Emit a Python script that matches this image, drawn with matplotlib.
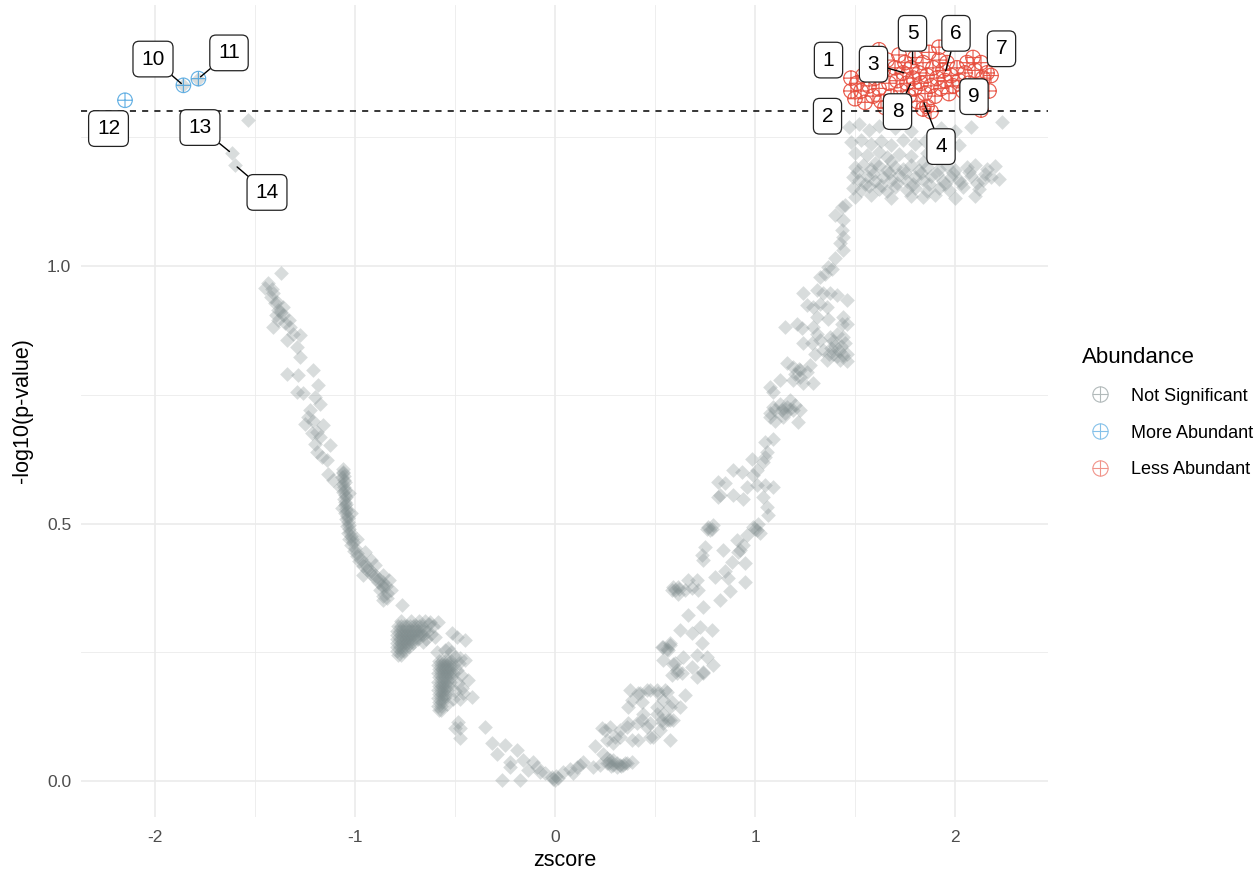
import numpy as np
import matplotlib
matplotlib.use("Agg")
import matplotlib.pyplot as plt
from matplotlib.path import Path
from matplotlib.lines import Line2D

plt.rcParams['font.family'] = ['Liberation Sans', 'DejaVu Sans']
plt.rcParams['axes.unicode_minus'] = False

# ---------------- data (zscore, -log10 p) ----------------
# not significant, upper left arm
ns_left = [(-1.372, 0.986), (-1.433, 0.967), (-1.450, 0.957), (-1.408, 0.947), (-1.400, 0.928),
           (-1.383, 0.915), (-1.358, 0.905), (-1.408, 0.882), (-1.330, 0.895), (-1.325, 0.882),
           (-1.342, 0.856), (-1.308, 0.869), (-1.275, 0.866), (-1.290, 0.843), (-1.275, 0.824),
           (-1.342, 0.790), (-1.283, 0.788), (-1.208, 0.798), (-1.183, 0.769), (-1.290, 0.756),
           (-1.258, 0.753), (-1.200, 0.746), (-1.175, 0.733), (-1.225, 0.720), (-1.233, 0.707),
           (-1.208, 0.700), (-1.250, 0.694), (-1.158, 0.691), (-1.217, 0.675), (-1.192, 0.678),
           (-1.175, 0.668), (-1.200, 0.655), (-1.125, 0.652), (-1.192, 0.639), (-1.167, 0.629),
           (-1.142, 0.623), (-1.133, 0.597), (-1.108, 0.584),
           (-1.390, 0.930), (-1.370, 0.910), (-1.385, 0.895), (-1.360, 0.920), (-1.420, 0.940),
           (-1.395, 0.905), (-1.350, 0.890), (-1.415, 0.955)]

# dense band around zscore -1
ns_band = [(-1.062, 0.605), (-1.058, 0.598), (-1.064, 0.590), (-1.056, 0.584), (-1.060, 0.576),
           (-1.054, 0.570), (-1.058, 0.562), (-1.050, 0.556), (-1.056, 0.548), (-1.048, 0.542),
           (-1.052, 0.535), (-1.044, 0.528), (-1.050, 0.521), (-1.040, 0.515), (-1.046, 0.508),
           (-1.036, 0.502), (-1.042, 0.495), (-1.030, 0.489), (-1.036, 0.482), (-1.022, 0.476),
           (-1.028, 0.470), (-1.012, 0.464), (-1.018, 0.458), (-1.000, 0.452), (-1.006, 0.447),
           (-0.988, 0.442), (-0.992, 0.436), (-0.972, 0.432), (-0.978, 0.427), (-0.955, 0.424),
           (-0.960, 0.418), (-0.938, 0.416), (-0.942, 0.410), (-0.918, 0.408), (-0.922, 0.402),
           (-0.900, 0.400), (-0.902, 0.394), (-0.880, 0.392), (-0.884, 0.386), (-0.862, 0.386),
           (-0.864, 0.380), (-0.845, 0.378),
           (-1.060, 0.600), (-1.055, 0.592), (-1.052, 0.580), (-1.052, 0.565), (-1.046, 0.552),
           (-1.044, 0.538), (-1.040, 0.525), (-1.034, 0.510), (-1.030, 0.498), (-1.024, 0.484),
           (-1.014, 0.470),
           (-1.075, 0.570), (-1.030, 0.560), (-1.020, 0.520), (-1.065, 0.530), (-0.990, 0.470),
           (-0.950, 0.445), (-0.920, 0.430), (-0.960, 0.400), (-0.900, 0.420), (-0.860, 0.400),
           (-0.830, 0.390), (-0.820, 0.370), (-0.860, 0.360), (-0.840, 0.355), (-0.875, 0.370)]

# first solid blob near zscore -0.75
ns_blob_a = [(-0.785, 0.300), (-0.770, 0.300), (-0.755, 0.300), (-0.740, 0.300), (-0.725, 0.300),
             (-0.710, 0.300), (-0.695, 0.300), (-0.680, 0.300), (-0.665, 0.300),
             (-0.790, 0.292), (-0.775, 0.292), (-0.760, 0.292), (-0.745, 0.292), (-0.730, 0.292),
             (-0.715, 0.292), (-0.700, 0.292), (-0.685, 0.292), (-0.670, 0.292), (-0.655, 0.292),
             (-0.788, 0.284), (-0.772, 0.284), (-0.756, 0.284), (-0.740, 0.284), (-0.724, 0.284),
             (-0.708, 0.284), (-0.692, 0.284), (-0.676, 0.284), (-0.660, 0.284),
             (-0.790, 0.276), (-0.775, 0.276), (-0.760, 0.276), (-0.745, 0.276), (-0.730, 0.276),
             (-0.715, 0.276), (-0.700, 0.276), (-0.685, 0.276),
             (-0.788, 0.268), (-0.772, 0.268), (-0.756, 0.268), (-0.740, 0.268), (-0.724, 0.268),
             (-0.708, 0.268),
             (-0.790, 0.260), (-0.775, 0.260), (-0.760, 0.260), (-0.745, 0.260), (-0.730, 0.260),
             (-0.788, 0.252), (-0.772, 0.252), (-0.756, 0.252),
             (-0.785, 0.245), (-0.770, 0.245),
             (-0.650, 0.310), (-0.630, 0.305), (-0.610, 0.300), (-0.640, 0.290), (-0.620, 0.285),
             (-0.600, 0.280), (-0.770, 0.310), (-0.720, 0.310), (-0.680, 0.310), (-0.645, 0.275),
             (-0.660, 0.270)]

# second solid blob near zscore -0.55
ns_blob_b = [(-0.580, 0.233), (-0.565, 0.233), (-0.550, 0.233), (-0.535, 0.233), (-0.520, 0.233),
             (-0.585, 0.225), (-0.570, 0.225), (-0.555, 0.225), (-0.540, 0.225), (-0.525, 0.225),
             (-0.510, 0.225),
             (-0.580, 0.217), (-0.565, 0.217), (-0.550, 0.217), (-0.535, 0.217), (-0.520, 0.217),
             (-0.585, 0.209), (-0.570, 0.209), (-0.555, 0.209), (-0.540, 0.209), (-0.525, 0.209),
             (-0.510, 0.209),
             (-0.580, 0.201), (-0.565, 0.201), (-0.550, 0.201), (-0.535, 0.201), (-0.520, 0.201),
             (-0.585, 0.193), (-0.570, 0.193), (-0.555, 0.193), (-0.540, 0.193), (-0.525, 0.193),
             (-0.580, 0.185), (-0.565, 0.185), (-0.550, 0.185), (-0.535, 0.185),
             (-0.585, 0.177), (-0.570, 0.177), (-0.555, 0.177), (-0.540, 0.177),
             (-0.580, 0.169), (-0.565, 0.169), (-0.550, 0.169),
             (-0.585, 0.161), (-0.570, 0.161), (-0.555, 0.161),
             (-0.580, 0.153), (-0.565, 0.153),
             (-0.585, 0.145), (-0.570, 0.145),
             (-0.580, 0.138), (-0.570, 0.138),
             (-0.500, 0.240), (-0.480, 0.230), (-0.490, 0.215), (-0.470, 0.205), (-0.485, 0.190),
             (-0.465, 0.180), (-0.500, 0.175), (-0.475, 0.160), (-0.510, 0.160), (-0.540, 0.150),
             (-0.550, 0.165), (-0.460, 0.170), (-0.520, 0.250), (-0.550, 0.255), (-0.590, 0.250)]

# valley around zscore 0
ns_valley = [(-0.860, 0.377), (-0.840, 0.365), (-0.860, 0.351), (-0.767, 0.342), (-0.625, 0.309),
             (-0.583, 0.309), (-0.517, 0.287), (-0.492, 0.280), (-0.450, 0.274), (-0.533, 0.258),
             (-0.475, 0.238), (-0.450, 0.235), (-0.433, 0.196), (-0.417, 0.164), (-0.483, 0.115),
             (-0.475, 0.102), (-0.500, 0.102), (-0.475, 0.083), (-0.350, 0.105), (-0.317, 0.073),
             (-0.250, 0.070), (-0.292, 0.053), (-0.192, 0.060), (-0.225, 0.037), (-0.225, 0.028),
             (-0.158, 0.041), (-0.108, 0.037), (-0.092, 0.028), (-0.133, 0.021), (-0.267, 0.002),
             (-0.175, 0.002), (-0.075, 0.018), (-0.050, 0.015), (-0.017, 0.008), (0.000, 0.002),
             (0.017, 0.005), (0.005, 0.010), (-0.008, 0.004)]

# right arm, lower part
ns_right_low = [(0.042, 0.018), (0.075, 0.024), (0.108, 0.028), (0.142, 0.037), (0.125, 0.031),
                (0.092, 0.015), (0.192, 0.028), (0.225, 0.031), (0.258, 0.034), (0.292, 0.031),
                (0.325, 0.031), (0.358, 0.034), (0.200, 0.067), (0.233, 0.102), (0.275, 0.105),
                (0.292, 0.073), (0.325, 0.086), (0.358, 0.105), (0.383, 0.037), (0.242, 0.053),
                (0.275, 0.040), (0.308, 0.028), (0.342, 0.031), (0.250, 0.099), (0.258, 0.080),
                (0.300, 0.086), (0.325, 0.099), (0.367, 0.112), (0.417, 0.080), (0.433, 0.118),
                (0.475, 0.112), (0.492, 0.086), (0.525, 0.099), (0.533, 0.118), (0.575, 0.118),
                (0.575, 0.080), (0.592, 0.118), (0.375, 0.177), (0.417, 0.170), (0.458, 0.177),
                (0.508, 0.177), (0.558, 0.173), (0.367, 0.144), (0.442, 0.131), (0.458, 0.105),
                (0.508, 0.131), (0.542, 0.112), (0.575, 0.144), (0.475, 0.086), (0.408, 0.112),
                (0.383, 0.080), (0.383, 0.157), (0.425, 0.170), (0.433, 0.154), (0.475, 0.177),
                (0.517, 0.170), (0.550, 0.177), (0.508, 0.144), (0.542, 0.157), (0.583, 0.154),
                (0.625, 0.144), (0.650, 0.167), (0.542, 0.131), (0.567, 0.118),
                (0.270, 0.035), (0.290, 0.040), (0.310, 0.035), (0.280, 0.030), (0.260, 0.045),
                (0.330, 0.030), (0.350, 0.035)]

# right arm, middle part
ns_right_mid = [(0.542, 0.261), (0.575, 0.267), (0.592, 0.228), (0.608, 0.209), (0.533, 0.261),
                (0.558, 0.257), (0.575, 0.264), (0.542, 0.235), (0.600, 0.229), (0.633, 0.209),
                (0.583, 0.206), (0.642, 0.241), (0.683, 0.222), (0.708, 0.245), (0.733, 0.267),
                (0.708, 0.202), (0.742, 0.212), (0.758, 0.241), (0.792, 0.225), (0.625, 0.293),
                (0.683, 0.287), (0.725, 0.299), (0.667, 0.322), (0.742, 0.338), (0.783, 0.293),
                (0.592, 0.377), (0.617, 0.364), (0.583, 0.371), (0.617, 0.377), (0.650, 0.371),
                (0.683, 0.374), (0.717, 0.371), (0.667, 0.390), (0.708, 0.390), (0.733, 0.439),
                (0.750, 0.455), (0.742, 0.429), (0.767, 0.494), (0.792, 0.497), (0.775, 0.487),
                (0.800, 0.397), (0.825, 0.351), (0.842, 0.449), (0.850, 0.407), (0.867, 0.394),
                (0.875, 0.368), (0.883, 0.426), (0.908, 0.468), (0.917, 0.445), (0.942, 0.458),
                (0.950, 0.423), (0.958, 0.478), (0.950, 0.387), (0.992, 0.494), (1.008, 0.487),
                (1.025, 0.481), (0.925, 0.449), (1.017, 0.500),
                (0.565, 0.255), (0.610, 0.215), (0.740, 0.210), (0.600, 0.370), (0.620, 0.372),
                (0.760, 0.490), (0.785, 0.490), (1.000, 0.490)]

# right arm, upper part
ns_right_up = [(1.050, 0.659), (1.092, 0.665), (1.058, 0.639), (1.050, 0.629), (1.042, 0.619),
               (1.008, 0.603), (0.983, 0.625), (0.892, 0.603), (0.933, 0.600), (0.992, 0.594),
               (0.958, 0.571), (1.008, 0.575), (1.050, 0.575), (1.092, 0.571), (1.042, 0.552),
               (1.058, 0.532), (1.067, 0.516), (0.817, 0.581), (0.850, 0.578), (0.825, 0.555),
               (0.892, 0.555), (0.942, 0.548), (0.817, 0.551),
               (1.092, 0.727), (1.133, 0.720), (1.175, 0.723), (1.200, 0.730), (1.225, 0.720),
               (1.217, 0.698), (1.125, 0.733), (1.075, 0.707), (1.075, 0.766), (1.125, 0.779),
               (1.158, 0.727), (1.192, 0.720), (1.175, 0.740), (1.142, 0.707), (1.075, 0.714),
               (1.100, 0.720), (1.140, 0.725), (1.100, 0.700), (1.150, 0.715), (1.090, 0.755),
               (1.192, 0.804), (1.225, 0.798), (1.258, 0.795), (1.225, 0.785), (1.192, 0.779),
               (1.275, 0.808), (1.158, 0.811), (1.242, 0.772), (1.292, 0.772), (1.200, 0.790),
               (1.220, 0.800),
               (1.325, 0.856), (1.375, 0.863), (1.408, 0.869), (1.442, 0.863), (1.283, 0.850),
               (1.342, 0.837), (1.392, 0.830), (1.442, 0.827), (1.358, 0.817), (1.425, 0.817),
               (1.458, 0.830), (1.242, 0.850), (1.300, 0.830), (1.380, 0.840), (1.400, 0.845),
               (1.420, 0.835), (1.370, 0.830), (1.410, 0.825), (1.430, 0.845), (1.450, 0.850),
               (1.390, 0.855), (1.460, 0.815),
               (1.308, 0.902), (1.367, 0.898), (1.442, 0.902), (1.433, 0.888), (1.292, 0.882),
               (1.308, 0.869), (1.150, 0.882), (1.208, 0.888), (1.233, 0.879), (1.458, 0.888),
               (1.308, 0.953), (1.342, 0.947), (1.375, 0.947), (1.408, 0.944), (1.242, 0.947),
               (1.258, 0.924), (1.292, 0.921), (1.325, 0.927), (1.358, 0.921), (1.458, 0.934),
               (1.400, 1.015), (1.367, 0.999), (1.383, 0.995), (1.325, 0.979), (1.350, 0.985),
               (1.450, 1.118), (1.433, 1.115), (1.400, 1.099), (1.442, 1.089), (1.433, 1.070),
               (1.442, 1.057), (1.425, 1.044), (1.442, 1.031)]

# grey cloud just below the significance line on the right
ns_top = [(1.47, 1.270), (1.52, 1.275), (1.57, 1.265), (1.62, 1.272), (1.70, 1.268), (1.78, 1.262),
          (1.93, 1.268), (2.00, 1.262), (2.08, 1.270), (2.235, 1.280),
          (1.48, 1.240), (1.53, 1.245), (1.58, 1.238), (1.63, 1.242), (1.68, 1.236), (1.74, 1.244),
          (1.80, 1.238), (1.85, 1.242), (1.90, 1.236), (1.97, 1.240), (2.02, 1.235),
          (1.50, 1.220), (1.56, 1.215), (1.62, 1.222), (1.66, 1.212), (1.72, 1.218), (1.78, 1.214),
          (1.86, 1.220), (1.92, 1.212),
          (1.50, 1.192), (1.54, 1.196), (1.58, 1.188), (1.62, 1.194), (1.66, 1.186), (1.70, 1.192),
          (1.74, 1.188), (1.78, 1.196), (1.82, 1.186), (1.86, 1.192), (1.92, 1.188), (1.96, 1.194),
          (2.00, 1.186), (2.06, 1.192), (2.10, 1.196), (2.16, 1.188), (2.20, 1.195),
          (1.49, 1.172), (1.52, 1.168), (1.56, 1.175), (1.60, 1.166), (1.64, 1.172), (1.68, 1.168),
          (1.72, 1.176), (1.76, 1.166), (1.80, 1.172), (1.84, 1.168), (1.88, 1.174), (1.94, 1.166),
          (1.98, 1.172), (2.02, 1.168), (2.08, 1.174), (2.14, 1.168), (2.18, 1.172), (2.22, 1.170),
          (1.49, 1.152), (1.53, 1.148), (1.57, 1.155), (1.62, 1.150), (1.66, 1.146), (1.70, 1.154),
          (1.76, 1.148), (1.80, 1.152), (1.86, 1.146), (1.92, 1.152), (1.97, 1.148), (2.04, 1.154),
          (2.12, 1.150),
          (1.50, 1.135), (1.58, 1.138), (1.68, 1.132), (1.78, 1.136), (1.84, 1.134), (1.90, 1.138),
          (2.00, 1.132), (2.10, 1.136),
          (1.51, 1.182), (1.55, 1.160), (1.59, 1.178), (1.63, 1.158), (1.67, 1.180), (1.71, 1.162),
          (1.75, 1.180), (1.79, 1.160), (1.83, 1.180), (1.87, 1.160), (1.91, 1.178), (1.95, 1.160),
          (1.99, 1.180), (2.03, 1.162), (2.07, 1.182), (2.11, 1.162), (2.15, 1.178), (1.60, 1.200),
          (1.68, 1.205), (1.84, 1.202)]

# grey points at the far left
ns_far_left = [(-1.533, 1.283), (-1.617, 1.219), (-1.600, 1.196), (-1.858, 1.351), (-1.783, 1.364)]

# significant: more abundant (blue), less abundant (red)
more_abundant = [(-1.858, 1.351), (-1.783, 1.364), (-2.150, 1.322)]
less_abundant = [(1.48, 1.340), (1.48, 1.365), (1.50, 1.325), (1.51, 1.355), (1.53, 1.340),
                 (1.54, 1.370), (1.55, 1.318), (1.57, 1.350), (1.59, 1.330), (1.60, 1.365),
                 (1.62, 1.345), (1.63, 1.320), (1.62, 1.420), (1.64, 1.380), (1.66, 1.400),
                 (1.67, 1.355), (1.68, 1.330), (1.70, 1.385), (1.71, 1.360), (1.72, 1.410),
                 (1.73, 1.340), (1.74, 1.375), (1.75, 1.395), (1.76, 1.355), (1.77, 1.330),
                 (1.78, 1.385), (1.79, 1.365), (1.80, 1.405), (1.80, 1.345), (1.81, 1.320),
                 (1.82, 1.375), (1.83, 1.355), (1.84, 1.395), (1.85, 1.335), (1.86, 1.370),
                 (1.86, 1.310), (1.87, 1.415), (1.88, 1.350), (1.89, 1.385), (1.90, 1.330),
                 (1.91, 1.365), (1.92, 1.425), (1.92, 1.400), (1.93, 1.345), (1.94, 1.380),
                 (1.95, 1.360), (1.96, 1.395), (1.97, 1.335), (1.98, 1.370), (1.99, 1.350),
                 (2.01, 1.385), (2.02, 1.360), (2.04, 1.340), (2.05, 1.375), (2.06, 1.395),
                 (2.07, 1.355), (2.09, 1.405), (2.10, 1.380), (2.11, 1.350), (2.12, 1.320),
                 (2.13, 1.395), (2.14, 1.365), (2.16, 1.375), (2.17, 1.340), (2.18, 1.370),
                 (2.13, 1.303), (1.84, 1.305), (1.88, 1.300), (1.72, 1.318), (1.65, 1.308)]

# labelled proteins: label, point, label box position
label_text = ['1', '2', '3', '4', '5', '6', '7', '8', '9', '10', '11', '12', '13', '14']
label_pt = [(1.48, 1.365), (1.47, 1.325), (1.758, 1.374), (1.84, 1.322), (1.788, 1.387),
            (1.95, 1.374), (2.16, 1.390), (1.783, 1.358), (2.12, 1.360), (-1.858, 1.351),
            (-1.783, 1.364), (-2.150, 1.322), (-1.617, 1.219), (-1.600, 1.196)]
label_box = [(1.3675, 1.400), (1.3625, 1.291), (1.5925, 1.392), (1.930, 1.232), (1.7875, 1.452),
             (2.005, 1.452), (2.2325, 1.422), (1.7125, 1.300), (2.095, 1.329), (-2.010, 1.402),
             (-1.630, 1.414), (-2.2325, 1.267), (-1.775, 1.269), (-1.440, 1.143)]
label_seg = [False, False, True, True, True, True, False, True, False, True, True, False, True, True]

p_cut = 0.05

# ---------------- plot ----------------
grey = '#7F8C8D'
blue = '#3498DB'
red = '#E74C3C'

circ = Path.unit_circle()
cplus = Path(np.concatenate([circ.vertices, [[-1, 0], [1, 0], [0, -1], [0, 1]]]),
             np.concatenate([circ.codes, [Path.MOVETO, Path.LINETO, Path.MOVETO, Path.LINETO]]))

ns = np.array(ns_left + ns_band + ns_blob_a + ns_blob_b + ns_valley + ns_right_low
              + ns_right_mid + ns_right_up + ns_top + ns_far_left)
up = np.array(more_abundant)
down = np.array(less_abundant)

fig = plt.figure(figsize=(12.59, 8.73), dpi=100)
ax = fig.add_axes([81 / 1259, 56 / 873, 967 / 1259, 812 / 873])

ax.scatter(ns[:, 0], ns[:, 1], marker='D', s=56, color=grey, alpha=0.3, linewidths=0, zorder=2)
ax.scatter(down[:, 0], down[:, 1], marker=cplus, s=110, facecolors='none', edgecolors=red,
           linewidths=0.85, alpha=0.9, zorder=3)
ax.scatter(up[:, 0], up[:, 1], marker=cplus, s=110, facecolors='none', edgecolors=blue,
           linewidths=0.85, alpha=0.75, zorder=3)

ax.axhline(-np.log10(p_cut), color='black', lw=1.1, ls=(0, (4, 4)), zorder=4)

for t, p, b, seg in zip(label_text, label_pt, label_box, label_seg):
    ax.annotate(t, xy=p, xytext=b, ha='center', va='center', fontsize=15, zorder=6,
                bbox=dict(boxstyle='round,pad=0.4,rounding_size=0.3', fc='white', ec='#222222', lw=0.9),
                arrowprops=dict(arrowstyle='-', color='black', lw=1.0, shrinkA=0, shrinkB=2)
                if seg else None)

ax.set_xlim(-2.37, 2.465)
ax.set_ylim(-0.07, 1.507)
ax.set_xticks([-2, -1, 0, 1, 2])
ax.set_yticks([0.0, 0.5, 1.0])
ax.set_yticklabels(['0.0', '0.5', '1.0'])
ax.set_xticks([-1.5, -0.5, 0.5, 1.5], minor=True)
ax.set_yticks([0.25, 0.75, 1.25], minor=True)
ax.grid(which='major', color='#EBEBEB', lw=1.2)
ax.grid(which='minor', color='#EBEBEB', lw=0.6)
ax.set_axisbelow(True)
for s in ax.spines.values():
    s.set_visible(False)
ax.tick_params(which='both', length=0, labelsize=12.5, labelcolor='#4D4D4D')
ax.tick_params(axis='x', pad=9)
ax.tick_params(axis='y', pad=7)
ax.set_xlabel('zscore', fontsize=15.5, labelpad=4)
ax.set_ylabel('-log10(p-value)', fontsize=15.5, labelpad=10)

handles = [Line2D([], [], ls='none', marker=cplus, markersize=11, markerfacecolor='none',
                  markeredgecolor=c, markeredgewidth=0.8, alpha=0.6) for c in (grey, blue, red)]
fig.legend(handles, ['Not Significant', 'More Abundant', 'Less Abundant'], title='Abundance',
           loc='upper left', bbox_to_anchor=(1080 / 1259, 1 - 345 / 873), frameon=False,
           fontsize=13, title_fontsize=16, alignment='left', handlelength=2.0,
           handletextpad=0.7, labelspacing=1.1, borderpad=0.1, borderaxespad=0)

fig.savefig('out.png', dpi=100)
